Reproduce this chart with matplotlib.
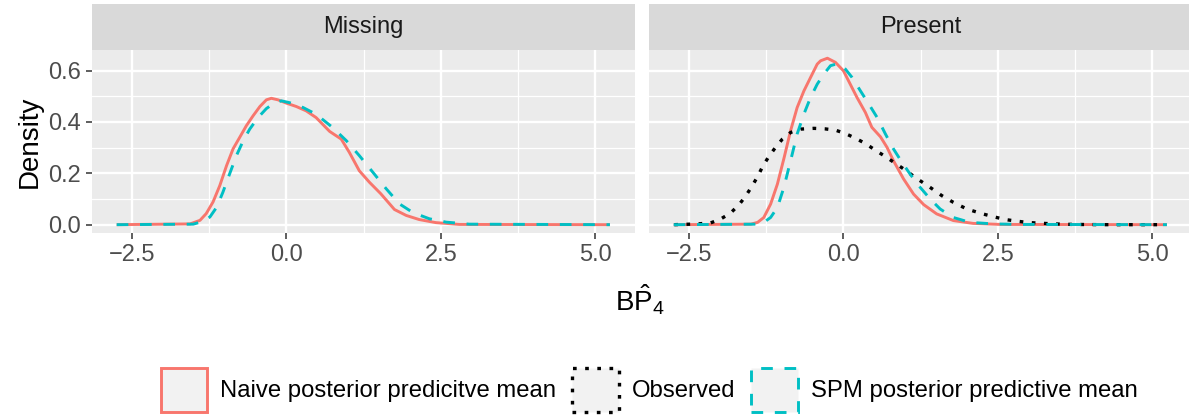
import matplotlib
matplotlib.use('Agg')
import matplotlib.pyplot as plt
from matplotlib.patches import Patch

# ---- data (density curves) ----
FACETS = ['Missing', 'Present']
LABELS = ['Naive posterior predicitve mean', 'Observed', 'SPM posterior predictive mean']

missing_naive_x = [-2.75, -1.56, -1.40, -1.30, -1.19, -1.08, -0.97, -0.865, -0.757, -0.65,
                   -0.54, -0.43, -0.325, -0.245, -0.137, 0.0, 0.16, 0.32, 0.48, 0.70,
                   0.888, 1.02, 1.18, 1.345, 1.53, 1.75, 1.94, 2.15, 2.42, 2.8, 5.24]
missing_naive_y = [0.0, 0.003, 0.017, 0.043, 0.088, 0.152, 0.230, 0.295, 0.340, 0.385,
                   0.424, 0.460, 0.486, 0.492, 0.486, 0.473, 0.460, 0.443, 0.417, 0.363,
                   0.333, 0.281, 0.210, 0.165, 0.120, 0.059, 0.036, 0.020, 0.008, 0.001, 0.0]

missing_spm_x = [-2.75, -1.51, -1.35, -1.24, -1.13, -1.03, -0.92, -0.81, -0.70, -0.595,
                 -0.46, -0.325, -0.19, -0.08, 0.05, 0.27, 0.48, 0.75, 0.97, 1.18,
                 1.40, 1.615, 1.83, 2.05, 2.315, 2.585, 2.96, 5.24]
missing_spm_y = [0.0, 0.002, 0.013, 0.030, 0.068, 0.126, 0.198, 0.269, 0.327, 0.372,
                 0.417, 0.452, 0.475, 0.482, 0.475, 0.456, 0.430, 0.378, 0.327, 0.269,
                 0.204, 0.140, 0.081, 0.047, 0.023, 0.010, 0.002, 0.0]

present_naive_x = [-2.75, -1.50, -1.39, -1.29, -1.18, -1.07, -0.96, -0.856, -0.75, -0.64,
                   -0.533, -0.425, -0.37, -0.26, -0.13, 0.0, 0.11, 0.22, 0.355, 0.46,
                   0.60, 0.706, 0.81, 0.974, 1.136, 1.30, 1.51, 1.78, 2.10, 2.54, 5.24]
present_naive_y = [0.0, 0.002, 0.009, 0.028, 0.080, 0.158, 0.262, 0.366, 0.456, 0.521,
                   0.573, 0.625, 0.638, 0.648, 0.632, 0.599, 0.547, 0.495, 0.437, 0.379,
                   0.342, 0.301, 0.249, 0.178, 0.119, 0.078, 0.042, 0.016, 0.005, 0.001, 0.0]

present_spm_x = [-2.75, -1.39, -1.29, -1.18, -1.07, -0.965, -0.856, -0.75, -0.64, -0.533,
                 -0.425, -0.318, -0.21, -0.076, 0.03, 0.14, 0.275, 0.41, 0.544, 0.68,
                 0.81, 0.95, 1.08, 1.244, 1.405, 1.567, 1.78, 2.05, 2.43, 2.86, 5.24]
present_spm_y = [0.0, 0.002, 0.009, 0.028, 0.067, 0.145, 0.249, 0.353, 0.431, 0.495,
                 0.547, 0.586, 0.619, 0.628, 0.606, 0.573, 0.521, 0.470, 0.418, 0.353,
                 0.295, 0.242, 0.197, 0.145, 0.100, 0.061, 0.028, 0.009, 0.003, 0.001, 0.0]

present_obs_x = [-2.74, -2.36, -2.15, -1.99, -1.83, -1.69, -1.58, -1.475, -1.385, -1.31,
                 -1.21, -1.10, -0.99, -0.856, -0.695, -0.48, -0.30, -0.13, 0.03, 0.19,
                 0.355, 0.517, 0.68, 0.84, 1.0, 1.163, 1.405, 1.594, 1.78, 2.0,
                 2.24, 2.43, 2.62, 2.80, 2.97, 3.16, 3.34, 3.53, 3.72, 4.2, 5.20]
present_obs_y = [0.0, 0.003, 0.007, 0.022, 0.045, 0.078, 0.113, 0.152, 0.190, 0.226,
                 0.265, 0.301, 0.333, 0.359, 0.372, 0.375, 0.373, 0.368, 0.355, 0.337,
                 0.316, 0.290, 0.265, 0.239, 0.213, 0.184, 0.145, 0.113, 0.087, 0.061,
                 0.043, 0.031, 0.020, 0.014, 0.009, 0.006, 0.004, 0.002, 0.001, 0.0, 0.0]

X_TICKS = [-2.5, 0.0, 2.5, 5.0]
X_MINOR = [-1.25, 1.25, 3.75]
Y_TICKS = [0.0, 0.2, 0.4, 0.6]
Y_MINOR = [0.1, 0.3, 0.5]

COLORS = {'naive': '#F8766D', 'obs': 'black', 'spm': '#00BFC4'}
STYLES = {'naive': '-', 'obs': (0, (1.1, 2.55)), 'spm': (0, (4, 4))}
WIDTHS = {'naive': 2.1, 'obs': 2.4, 'spm': 2.1}

plt.rcParams.update({
    'font.family': ['Liberation Sans', 'DejaVu Sans'],
    'mathtext.fontset': 'custom',
    'mathtext.rm': 'Liberation Sans',
    'mathtext.it': 'Liberation Sans:italic',
})

W, H = 1189, 417
fig = plt.figure(figsize=(W / 100, H / 100), dpi=100)


def px_box(x0, y0, x1, y1):
    # pixel box (top-left origin) -> figure fraction rect
    return [x0 / W, 1 - y1 / H, (x1 - x0) / W, (y1 - y0) / H]


panel_w = 542.6
panels = [(92, FACETS[0]), (649, FACETS[1])]
series = {
    'Missing': [('naive', missing_naive_x, missing_naive_y),
                ('spm', missing_spm_x, missing_spm_y)],
    'Present': [('naive', present_naive_x, present_naive_y),
                ('obs', present_obs_x, present_obs_y),
                ('spm', present_spm_x, present_spm_y)],
}

for i, (x0, name) in enumerate(panels):
    ax = fig.add_axes(px_box(x0, 50, x0 + panel_w, 233))
    ax.set_facecolor('#EBEBEB')
    for s in ax.spines.values():
        s.set_visible(False)
    for v in X_MINOR:
        ax.axvline(v, color='white', lw=0.9, zorder=0)
    for v in Y_MINOR:
        ax.axhline(v, color='white', lw=0.9, zorder=0)
    for v in X_TICKS:
        ax.axvline(v, color='white', lw=1.7, zorder=0)
    for v in Y_TICKS:
        ax.axhline(v, color='white', lw=1.7, zorder=0)

    for key, xs, ys in series[name]:
        ax.plot(xs, ys, color=COLORS[key], linestyle=STYLES[key], lw=WIDTHS[key],
                solid_capstyle='butt', dash_capstyle='butt', zorder=3)

    ax.set_xlim(-3.15, 5.64)
    ax.set_ylim(-0.0324, 0.680)
    ax.set_xticks(X_TICKS)
    ax.set_xticklabels([f'{v:.1f}'.replace('-', '\u2212') for v in X_TICKS])
    ax.set_yticks(Y_TICKS)
    ax.set_yticklabels([f'{v:.1f}' for v in Y_TICKS])
    ax.tick_params(length=4.5, width=1.1, color='#333333', labelcolor='#4D4D4D',
                   labelsize=17, pad=3.5)
    if i == 1:
        ax.tick_params(axis='y', left=False, labelleft=False)

    strip = fig.add_axes(px_box(x0, 4, x0 + panel_w, 50))
    strip.set_facecolor('#D9D9D9')
    strip.set_xticks([])
    strip.set_yticks([])
    for s in strip.spines.values():
        s.set_visible(False)
    strip.text(0.5, 0.5, name, ha='center', va='center', fontsize=17,
               color='#1A1A1A', transform=strip.transAxes)

fig.text(30 / W, 1 - 141.5 / H, 'Density', rotation=90, ha='center', va='center',
         fontsize=20)
fig.text(640 / W, 1 - 300 / H, r'B$\hat{\mathrm{P}}_4$', ha='center', va='center',
         fontsize=20)

handles = [Patch(facecolor='#F2F2F2', edgecolor=COLORS[k], linestyle=STYLES[k],
                 linewidth=WIDTHS[k])
           for k in ['naive', 'obs', 'spm']]
fig.legend(handles, LABELS, loc='center', bbox_to_anchor=(649 / W, 1 - 390 / H),
           ncol=3, frameon=False, fontsize=17.2, handlelength=1.95, handleheight=2.49,
           handletextpad=0.55, columnspacing=0.66, borderpad=0, borderaxespad=0)

fig.savefig('out.png', dpi=100)
